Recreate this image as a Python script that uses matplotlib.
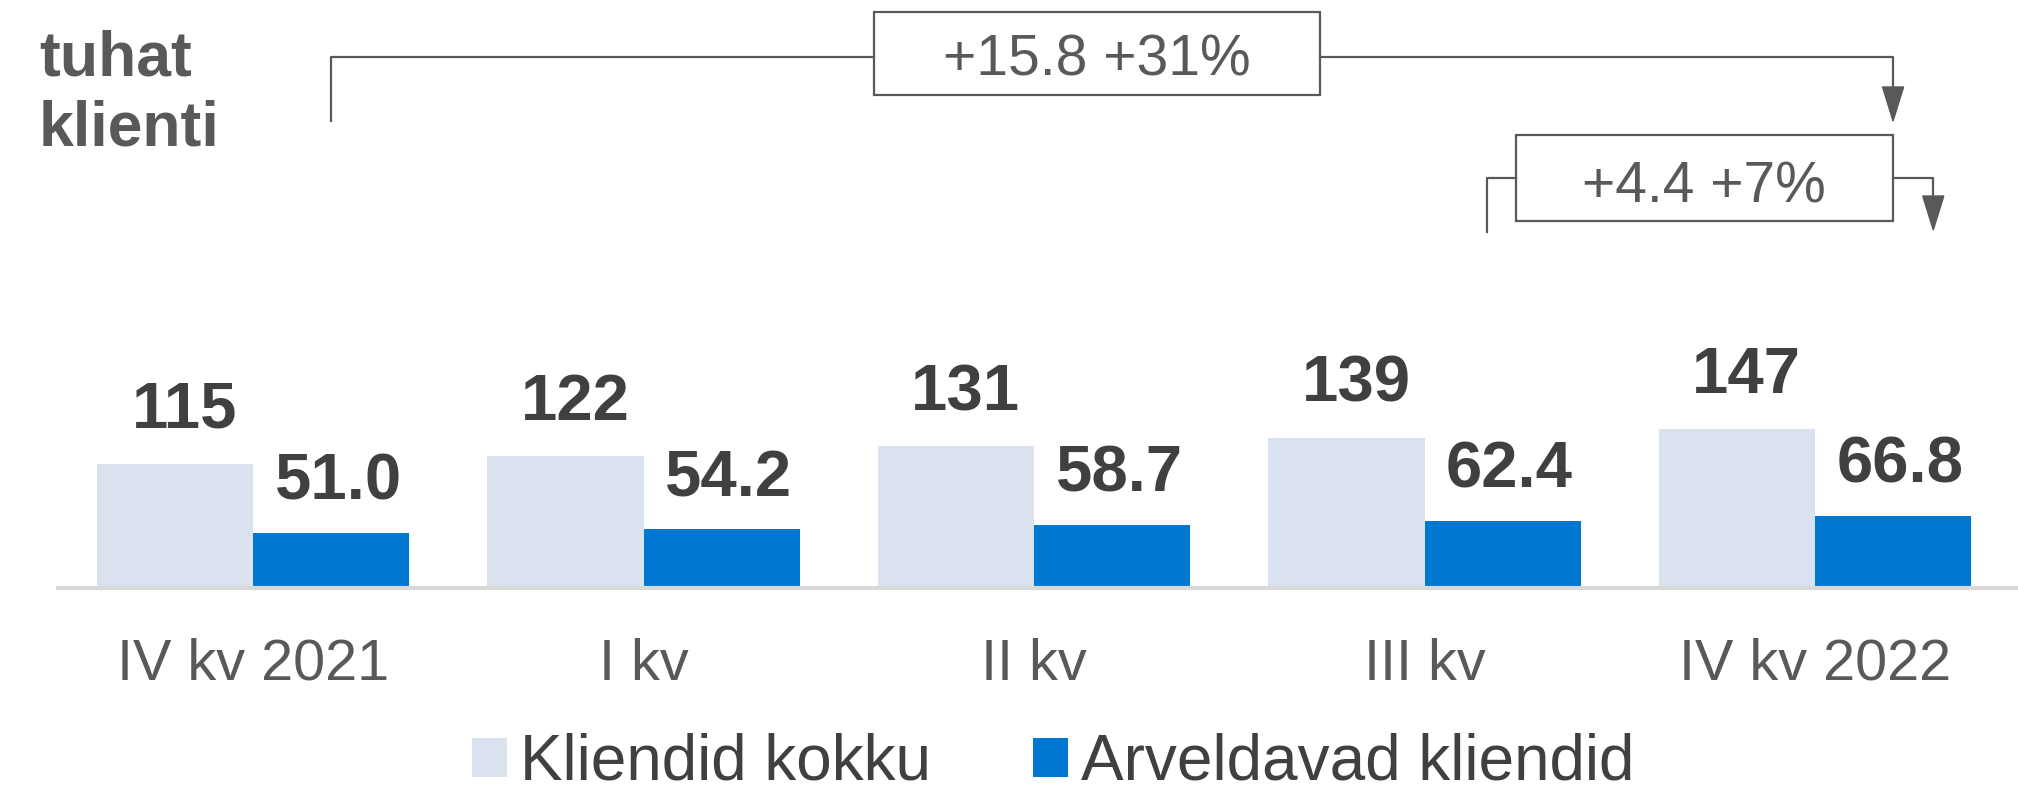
import matplotlib
matplotlib.use("Agg")
import matplotlib.pyplot as plt
import matplotlib.transforms as mtransforms
from matplotlib.patches import Rectangle, Polygon, Patch
from matplotlib.lines import Line2D

plt.rcParams['font.family'] = ['Liberation Sans', 'DejaVu Sans']

# ---- data ----
categories = ["IV kv 2021", "I kv", "II kv", "III kv", "IV kv 2022"]
clients_total = [115, 122, 131, 139, 147]
clients_billing = [51.0, 54.2, 58.7, 62.4, 66.8]
series_names = ["Kliendid kokku", "Arveldavad kliendid"]
unit_label = ["tuhat", "klienti"]
change_full = "+15.8 +31%"
change_last = "+4.4 +7%"

# ---- styles ----
C_LIGHT = "#D9E2EE"
C_BLUE = "#0077D0"
C_VAL = "#404040"
C_TXT = "#595959"
C_LINE = "#595959"

W, H = 2018, 793
fig = plt.figure(figsize=(W / 100, H / 100), dpi=100)
ax = fig.add_axes([58 / W, 1 - 588 / H, 1 - 58 / W, 588 / H])
ax.set_xlim(-0.5, 4.52)
ax.set_ylim(0, 544)

x = list(range(len(categories)))
bw = 0.4
xl = [i - bw / 2 for i in x]
xb = [i + bw / 2 for i in x]
ax.bar(xl, clients_total, width=bw, color=C_LIGHT, zorder=1)
ax.bar(xb, clients_billing, width=bw, color=C_BLUE, zorder=1)

for xi, v in zip(xl, clients_total):
    ax.annotate(f"{v:d}", (xi, v), xytext=(7, 26), textcoords="offset points",
                ha="center", va="baseline", fontsize=47, fontweight="bold", color=C_VAL)
for xi, v in zip(xb, clients_billing):
    ax.annotate(f"{v:.1f}", (xi, v), xytext=(5, 24), textcoords="offset points",
                ha="center", va="baseline", fontsize=47, fontweight="bold", color=C_VAL)

ax.set_xticks(x)
ax.set_xticklabels(categories, fontsize=41.5, color=C_TXT)
ax.tick_params(axis="x", length=0, pad=36)
ax.set_yticks([])
for s in ["left", "right", "top"]:
    ax.spines[s].set_visible(False)
ax.spines["bottom"].set_color("#D9D9D9")
ax.spines["bottom"].set_linewidth(3)

# unit label
fig.text(39 / W, 1 - 75 / H, unit_label[0], fontsize=45, fontweight="bold",
         color=C_TXT, ha="left", va="baseline")
fig.text(39 / W, 1 - 145 / H, unit_label[1], fontsize=45, fontweight="bold",
         color=C_TXT, ha="left", va="baseline")

# ---- change annotations (x in data, y in figure pixels) ----
bt = mtransforms.blended_transform_factory(ax.transData, fig.transFigure)
def fy(px):
    return 1 - px / H

def line(xs, ys):
    fig.add_artist(Line2D(xs, [fy(v) for v in ys], transform=bt, color=C_LINE, lw=1.6))

def box(x0, x1, y0, y1):
    fig.add_artist(Rectangle((x0, fy(y1)), x1 - x0, fy(y0) - fy(y1), transform=bt,
                             facecolor="white", edgecolor=C_LINE, lw=1.6))

def head(xc, ytip):
    hw = 0.027
    fig.add_artist(Polygon([(xc - hw, fy(ytip - 34)), (xc + hw, fy(ytip - 34)), (xc, fy(ytip))],
                           closed=True, transform=bt, facecolor=C_LINE, edgecolor=C_LINE, lw=1))

# big: first blue bar -> last blue bar
xa, xz = xb[0], xb[-1]
bx0, bx1 = 1.589, 2.731
line([xa, xa, bx0], [121, 57, 57])
line([bx1, xz, xz], [57, 57, 100])
head(xz, 121)
box(bx0, bx1, 12, 95)
fig.text((bx0 + bx1) / 2, fy(75), change_full, transform=bt, ha="center", va="baseline",
         fontsize=41, color=C_TXT)

# small: last quarter
sx0, sx1 = 3.233, 4.200
lx, rx = 3.161, 4.303
line([lx, lx, sx0], [232, 178, 178])
line([sx1, rx, rx], [178, 178, 210])
head(rx, 230)
box(sx0, sx1, 135, 221)
fig.text((sx0 + sx1) / 2, fy(202), change_last, transform=bt, ha="center", va="baseline",
         fontsize=41, color=C_TXT)

# legend
handles = [Patch(facecolor=C_LIGHT, edgecolor="none"), Patch(facecolor=C_BLUE, edgecolor="none")]
leg = fig.legend(handles, series_names, loc="center", bbox_to_anchor=(0.522, 0.038),
                 ncol=2, frameon=False, fontsize=46, handlelength=0.55, handleheight=0.55,
                 handletextpad=0.2, columnspacing=1.6, borderpad=0)
for t in leg.get_texts():
    t.set_color(C_VAL)

fig.savefig("out.png", dpi=100)
